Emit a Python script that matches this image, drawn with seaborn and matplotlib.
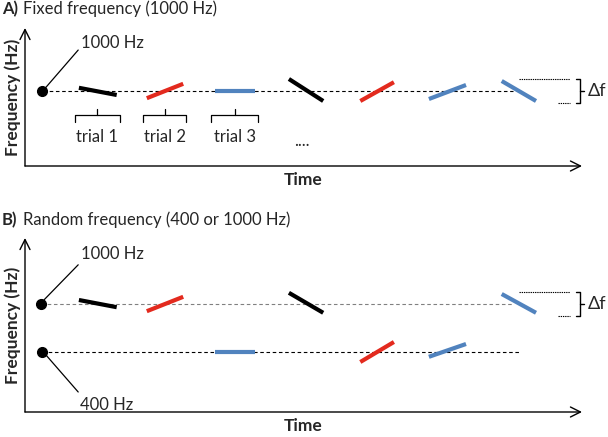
import numpy as np
import pandas as pd
import matplotlib.pyplot as plt
import seaborn as sns

# glide tones, one per trial: onset / offset time (trial units), start / end frequency (Hz)
trial = [1, 2, 3, 4, 5, 6, 7]
group = ["black", "red", "blue", "black", "red", "blue", "blue"]
onset = [0.77, 1.74, 2.71, 3.77, 4.79, 5.77, 6.81]
offset = [1.31, 2.26, 3.29, 4.26, 5.27, 6.30, 7.30]

f_start_a = [1040, 910, 1000, 1150, 875, 900, 1125]
f_end_a = [950, 1090, 1000, 875, 1110, 1075, 875]

f_start_b = [1050, 910, 400, 1140, 275, 340, 1125]
f_end_b = [960, 1090, 400, 890, 525, 500, 890]

base_freqs_a = [1000]
base_freqs_b = [1000, 400]
delta_f = 150
labelled_trials = ["trial 1", "trial 2", "trial 3"]

palette = {"black": "black", "red": "#E32A1E", "blue": "#5183BE"}
FS = 12


def glide_table(f_start, f_end):
    rows = []
    for i in range(len(trial)):
        rows.append((trial[i], group[i], onset[i], f_start[i]))
        rows.append((trial[i], group[i], offset[i], f_end[i]))
    return pd.DataFrame(rows, columns=["trial", "group", "time", "freq"])


def label_axes(ax):
    ax.set_xlabel("Time", fontweight="bold", fontsize=FS + 0.5, labelpad=4, visible=True)
    ax.set_ylabel("Frequency (Hz)", fontweight="bold", fontsize=FS + 0.5, labelpad=3, visible=True)


def draw_axes(ax, ylim):
    ax.set_xlim(0, 7.957)
    ax.set_ylim(*ylim)
    for s in ax.spines.values():
        s.set_visible(False)
    ax.set_xticks([])
    ax.set_yticks([])
    arrow = dict(arrowstyle="->", lw=1.0, color="black", mutation_scale=18,
                 shrinkA=0, shrinkB=0)
    ax.annotate("", xy=(1, 0), xytext=(0, 0), xycoords="axes fraction", arrowprops=arrow)
    ax.annotate("", xy=(0, 1), xytext=(0, 0), xycoords="axes fraction", arrowprops=arrow)


def draw_delta(ax, f0):
    top, bot = f0 + delta_f, f0 - delta_f
    dot = dict(color="black", lw=0.8, ls=(0, (1.2, 0.8)), clip_on=False)
    ax.plot([7.06, 7.79], [top, top], **dot)
    ax.plot([7.61, 7.79], [bot, bot], **dot)
    # curly brace
    ax.plot([7.87, 7.93, 7.93, 7.87], [top, top, bot, bot], color="black", lw=1.0, clip_on=False)
    ax.plot([7.93, 7.99], [f0, f0], color="black", lw=1.0, clip_on=False)
    ax.text(8.04, f0, "Δf", fontsize=FS + 1, va="center", ha="left")


def draw_glides(ax, df):
    sns.lineplot(data=df, x="time", y="freq", units="trial", estimator=None,
                 hue="group", palette=palette, lw=3.0, legend=False, ax=ax,
                 solid_capstyle="butt")
    label_axes(ax)


sns.set_style("white")
plt.rcParams["font.family"] = ["Lato", "DejaVu Sans"]

fig = plt.figure(figsize=(6.08, 4.37), dpi=100)
ax_a = fig.add_axes([25 / 608, 1 - 166 / 437, 557 / 608, 138 / 437])
ax_b = fig.add_axes([25 / 608, 1 - 412 / 437, 557 / 608, 174 / 437])

dash = (0, (3.2, 2.4))

# ---- panel A
draw_axes(ax_a, (62.5, 1787.5))
ax_a.plot([0.26, 6.97], [base_freqs_a[0]] * 2, color="black", lw=0.8, ls=dash)
ax_a.plot([0.24], [base_freqs_a[0]], "o", color="black", ms=7)
ax_a.plot([0.29, 0.76], [1037, 1512], color="black", lw=0.9)
ax_a.text(0.8, 1600, "1000 Hz", fontsize=FS, va="center", ha="left")
draw_glides(ax_a, glide_table(f_start_a, f_end_a))
draw_delta(ax_a, base_freqs_a[0])

for i, lab in enumerate(labelled_trials):
    x0, x1 = onset[i] - 0.05, offset[i] + 0.04
    xm = (x0 + x1) / 2
    ax_a.plot([x0, x0, x1, x1], [612, 700, 700, 612], color="black", lw=0.9)
    ax_a.plot([xm, xm], [700, 770], color="black", lw=0.9)
    ax_a.text(xm, 420, lab, fontsize=FS, ha="center", va="center")
ax_a.text(3.96, 370, "....", fontsize=FS, ha="center", va="center")

fig.text(2 / 608, 1 - 9 / 437, "A)", fontsize=FS, fontweight="bold", va="center")
fig.text(23 / 608, 1 - 9 / 437, "Fixed frequency (1000 Hz)", fontsize=FS, va="center")

# ---- panel B
draw_axes(ax_b, (-350, 1825))
ax_b.plot([0.23, 6.97], [base_freqs_b[0]] * 2, color="#808080", lw=0.8, ls=dash)
ax_b.plot([0.24, 7.07], [base_freqs_b[1]] * 2, color="black", lw=0.8, ls=dash)
ax_b.plot([0.23, 0.24], base_freqs_b, "o", color="black", ms=7)
ax_b.plot([0.27, 0.76], [1050, 1490], color="black", lw=0.9)
ax_b.plot([0.30, 0.76], [362, -100], color="black", lw=0.9, clip_on=False)
ax_b.text(0.8, 1625, "1000 Hz", fontsize=FS, va="center", ha="left")
ax_b.text(0.79, -262, "400 Hz", fontsize=FS, va="center", ha="left")
draw_glides(ax_b, glide_table(f_start_b, f_end_b))
draw_delta(ax_b, base_freqs_b[0])

fig.text(2 / 608, 1 - 220 / 437, "B)", fontsize=FS, fontweight="bold", va="center")
fig.text(23 / 608, 1 - 220 / 437, "Random frequency (400 or 1000 Hz)", fontsize=FS, va="center")

fig.savefig("out.png", dpi=100)
